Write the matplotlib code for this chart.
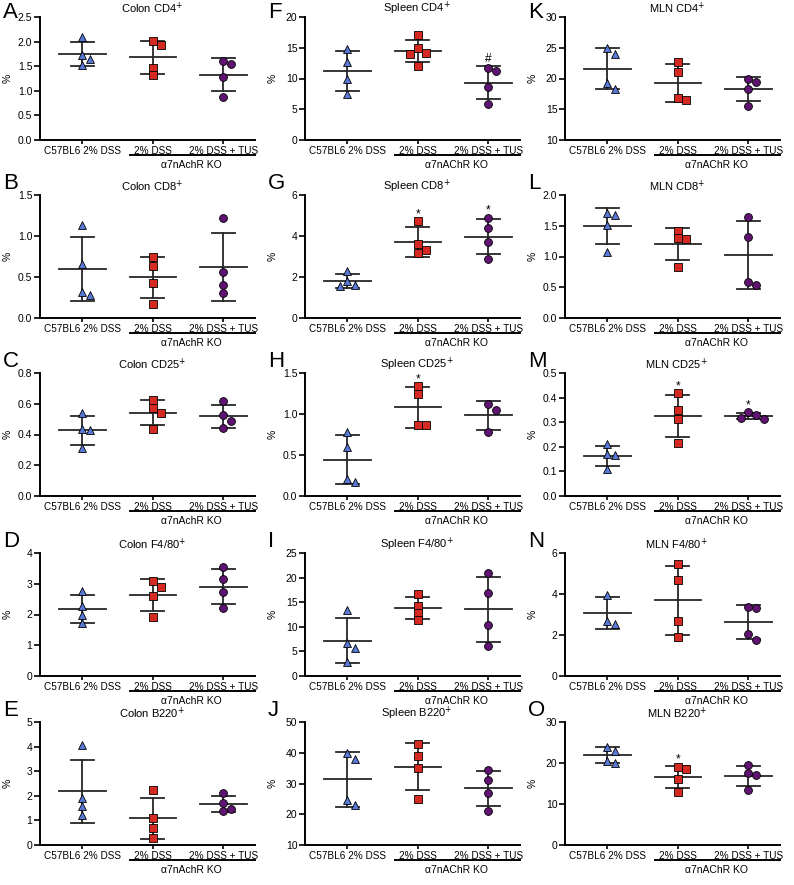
import numpy as np
import matplotlib.pyplot as plt
import matplotlib.transforms as mtransforms
from matplotlib.ticker import FormatStrFormatter

plt.rcParams['font.family'] = ['Liberation Sans', 'DejaVu Sans']

groups = ['C57BL6 2% DSS', '2% DSS', '2% DSS + TUS']

# values in %, one list per group: WT 2% DSS, KO 2% DSS, KO 2% DSS + TUS
colon_cd4 = [[2.10, 1.73, 1.65, 1.53], [2.01, 1.93, 1.47, 1.32], [1.60, 1.55, 1.28, 0.88]]
colon_cd8 = [[1.13, 0.66, 0.32, 0.28], [0.75, 0.63, 0.43, 0.17], [1.22, 0.56, 0.40, 0.31]]
colon_cd25 = [[0.54, 0.435, 0.43, 0.31], [0.625, 0.57, 0.54, 0.435], [0.62, 0.525, 0.485, 0.44]]
colon_f480 = [[2.78, 2.27, 1.98, 1.72], [3.10, 2.90, 2.60, 1.92], [3.55, 3.15, 2.72, 2.20]]
colon_b220 = [[4.05, 1.90, 1.60, 1.20], [2.25, 1.10, 0.70, 0.30], [2.10, 1.70, 1.45, 1.40]]

spleen_cd4 = [[14.8, 12.7, 10.0, 7.4], [17.1, 15.0, 14.2, 14.0, 12.1], [11.7, 11.2, 8.6, 5.8]]
spleen_cd8 = [[2.30, 1.80, 1.60, 1.55], [4.75, 3.60, 3.30, 3.15], [4.90, 4.40, 3.70, 2.90]]
spleen_cd25 = [[0.78, 0.60, 0.21, 0.17], [1.34, 1.25, 0.87, 0.86], [1.12, 1.05, 0.78]]
spleen_f480 = [[13.5, 6.7, 5.7, 2.9], [16.7, 14.3, 12.9, 11.3], [21.0, 16.8, 10.3, 6.1]]
spleen_b220 = [[40.0, 38.0, 24.5, 23.0], [43.0, 39.0, 35.0, 25.0], [34.5, 31.0, 27.0, 21.0]]

mln_cd4 = [[25.0, 24.0, 19.2, 18.3], [22.7, 21.0, 16.8, 16.5], [19.9, 19.5, 18.3, 15.5]]
mln_cd8 = [[1.70, 1.68, 1.52, 1.08], [1.42, 1.30, 1.28, 0.83], [1.65, 1.31, 0.58, 0.53]]
mln_cd25 = [[0.21, 0.17, 0.165, 0.11], [0.42, 0.35, 0.315, 0.215], [0.34, 0.328, 0.317, 0.315]]
mln_f480 = [[3.95, 2.70, 2.55], [5.45, 4.70, 2.70, 1.90], [3.38, 3.30, 2.05, 1.78]]
mln_b220 = [[24.0, 23.0, 20.5, 20.0], [19.0, 18.5, 16.0, 13.0], [19.5, 17.5, 17.0, 13.5]]

# letter, title, data, ymin, ymax, tick step, decimals, significance marks
columns = [
    [('A', 'Colon CD4$^{+}$', colon_cd4, 0, 2.5, 0.5, 1, {}),
     ('B', 'Colon CD8$^{+}$', colon_cd8, 0, 1.5, 0.5, 1, {}),
     ('C', 'Colon CD25$^{+}$', colon_cd25, 0, 0.8, 0.2, 1, {}),
     ('D', 'Colon F4/80$^{+}$', colon_f480, 0, 4, 1, 0, {}),
     ('E', 'Colon B220$^{+}$', colon_b220, 0, 5, 1, 0, {})],
    [('F', 'Spleen CD4$^{+}$', spleen_cd4, 0, 20, 5, 0, {2: '#'}),
     ('G', 'Spleen CD8$^{+}$', spleen_cd8, 0, 6, 2, 0, {1: '*', 2: '*'}),
     ('H', 'Spleen CD25$^{+}$', spleen_cd25, 0, 1.5, 0.5, 1, {1: '*'}),
     ('I', 'Spleen F4/80$^{+}$', spleen_f480, 0, 25, 5, 0, {}),
     ('J', 'Spleen B220$^{+}$', spleen_b220, 10, 50, 10, 0, {})],
    [('K', 'MLN CD4$^{+}$', mln_cd4, 10, 30, 5, 0, {}),
     ('L', 'MLN CD8$^{+}$', mln_cd8, 0, 2.0, 0.5, 1, {}),
     ('M', 'MLN CD25$^{+}$', mln_cd25, 0, 0.5, 0.1, 1, {1: '*', 2: '*'}),
     ('N', 'MLN F4/80$^{+}$', mln_f480, 0, 6, 2, 0, {}),
     ('O', 'MLN B220$^{+}$', mln_b220, 0, 30, 10, 0, {1: '*'})],
]
ko_labels = ['\u03b17nAchR KO', '\u03b17nAChR KO', '\u03b17nAChR KO']

markers = ['^', 's', 'o']
colors = ['#5a78d6', '#d42a22', '#5e1470']
line_c = '#262626'


def swarm(vals, thr, step=0.11):
    # simple beeswarm: spread points that would overlap
    offs = np.zeros(len(vals))
    placed = []
    for i in np.argsort(-vals):
        for c in [0, step, -step, 2 * step, -2 * step, 3 * step, -3 * step]:
            if all(abs(vals[i] - vals[j]) > thr or abs(c - offs[j]) > step * 0.9 for j in placed):
                offs[i] = c
                break
        placed.append(i)
    return offs


W, H = 794, 885
fig = plt.figure(figsize=(W / 100, H / 100), dpi=100)
col_left = [40, 305, 565]
row_top = [17, 195, 373, 553, 722]
aw, ah = 215, 123

for ci, col in enumerate(columns):
    for ri, (letter, title, data, ymin, ymax, step, dec, marks) in enumerate(col):
        l, t = col_left[ci], row_top[ri]
        ax = fig.add_axes([l / W, 1 - (t + ah) / H, aw / W, ah / H])
        yr = ymax - ymin
        for g, vals in enumerate(data):
            vals = np.array(vals)
            m = vals.mean()
            sd = vals.std(ddof=1)
            ax.plot([g - 0.33, g + 0.33], [m, m], color=line_c, lw=1.3, zorder=2)
            ax.plot([g - 0.165, g + 0.165], [m - sd, m - sd], color=line_c, lw=1.3, zorder=2)
            ax.plot([g - 0.165, g + 0.165], [m + sd, m + sd], color=line_c, lw=1.3, zorder=2)
            ax.plot([g, g], [m - sd, m + sd], color=line_c, lw=1.3, zorder=2)
            xs = g + swarm(vals, 0.055 * yr)
            ax.scatter(xs, vals, marker=markers[g], s=32, c=colors[g],
                       edgecolors='black', linewidths=0.6, zorder=3)
            if g in marks:
                top = max(vals.max(), m + sd)
                ax.text(g, top + 0.005 * yr, marks[g], ha='center', va='bottom', fontsize=8.5)
        ax.set_xlim(-0.6, 2.45)
        ax.set_ylim(ymin, ymax)
        ax.set_yticks(np.arange(ymin, ymax + step / 2, step))
        ax.yaxis.set_major_formatter(FormatStrFormatter('%.' + str(dec) + 'f'))
        ax.set_xticks([0, 1, 2])
        ax.set_xticklabels(groups)
        ax.tick_params(labelsize=7.5, length=4, width=1.2, pad=1.5)
        ax.tick_params(axis='x', length=3, pad=1, labelsize=7.2)
        for s in ['top', 'right']:
            ax.spines[s].set_visible(False)
        for s in ['left', 'bottom']:
            ax.spines[s].set_linewidth(1.4)
        ax.set_ylabel('%', fontsize=7.5)
        ax.yaxis.set_label_coords(-27 / aw, 0.5)
        ax.text(0.52, 1 + 9 / ah, title, transform=ax.transAxes, ha='center',
                va='center', fontsize=8)
        trans = mtransforms.blended_transform_factory(ax.transData, ax.transAxes)
        ax.plot([0.68, 2.45], [-0.125, -0.125], transform=trans, color='black',
                lw=1.4, clip_on=False)
        ax.text(1.55, -0.2, ko_labels[ci], transform=trans, ha='center', va='center',
                fontsize=7.5)
        ly = max(t - 6, 18)
        fig.text((l - 37) / W, 1 - ly / H, letter, fontsize=16, ha='left', va='baseline')

plt.savefig('out.png', dpi=100)
